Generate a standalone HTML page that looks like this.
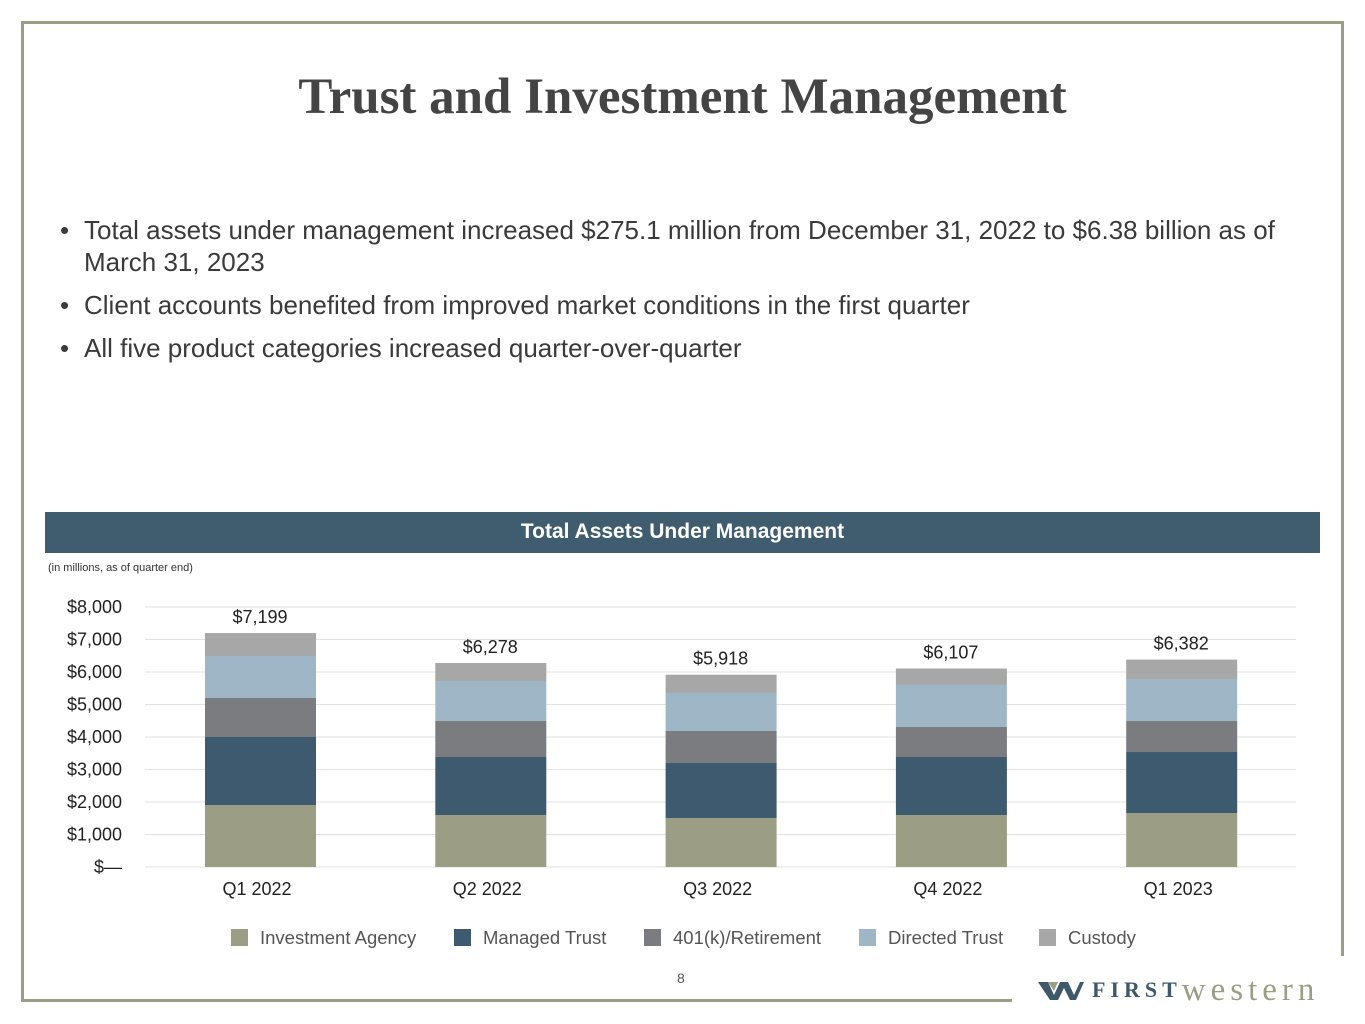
<!DOCTYPE html>
<html><head><meta charset="utf-8"><style>
body{margin:0;width:1365px;height:1024px;background:#fff;position:relative;overflow:hidden;font-family:"Liberation Sans",sans-serif}
.abs{position:absolute}
</style></head><body>
<div class="abs" style="left:21px;top:21px;width:1323px;height:3px;background:#9b9d84"></div>
<div class="abs" style="left:21px;top:21px;width:3px;height:981px;background:#9b9d84"></div>
<div class="abs" style="left:1341px;top:21px;width:3px;height:935px;background:#9b9d84"></div>
<div class="abs" style="left:21px;top:999px;width:991px;height:3px;background:#9b9d84"></div>
<div class="abs" style="left:0;width:1365px;top:68px;text-align:center;font-family:'Liberation Serif',serif;font-weight:bold;font-size:51px;color:#444">Trust and Investment Management</div>
<div class="abs" style="left:60px;top:214px;width:1240px;font-size:26px;color:#3a3a3a;line-height:32px">
<div style="padding-left:24px;position:relative"><span style="position:absolute;left:0">•</span>Total assets under management increased $275.1 million from December 31, 2022 to $6.38 billion as of March 31, 2023</div>
<div style="padding-left:24px;position:relative;margin-top:11px"><span style="position:absolute;left:0">•</span>Client accounts benefited from improved market conditions in the first quarter</div>
<div style="padding-left:24px;position:relative;margin-top:11px"><span style="position:absolute;left:0">•</span>All five product categories increased quarter-over-quarter</div>
</div>
<div class="abs" style="left:45px;top:512px;width:1275px;height:41px;background:#3f5d6f;color:#fff;font-weight:bold;font-size:21px;text-align:center;line-height:40px">Total Assets Under Management</div>
<div class="abs" style="left:48px;top:562px;font-size:11px;color:#333">(in millions, as of quarter end)</div>
<svg class="abs" style="left:0;top:0" width="1365" height="1024" id="chart"></svg>
<div class="abs" style="left:677px;top:970px;font-size:14px;color:#555">8</div>
<div class="abs" style="left:1038px;top:974px;height:32px;display:flex;align-items:center">
<svg width="46" height="22"><polygon points="0,3 10,3 16,16 22,3 30,3 36,16 42,3 46,3 38,21 32,21 26,9 20,21 12,21" fill="#3e5a6a"/><polygon points="10,3 20,3 16,12" fill="#9b9d84"/></svg>
<span style="font-family:'Liberation Serif',serif;font-weight:bold;font-size:22px;color:#3e5a6a;letter-spacing:5px;margin-left:8px">FIRST</span><span style="font-family:'Liberation Serif',serif;font-size:33px;color:#9b9d84;letter-spacing:5px">western</span>
</div>
<script>
const categories=["Q1 2022","Q2 2022","Q3 2022","Q4 2022","Q1 2023"];
const investmentAgency=[1908,1600,1508,1600,1662];
const managedTrust=[2092,1785,1692,1785,1876];
const retirement401k=[1200,1107,985,923,954];
const directedTrust=[1292,1231,1169,1292,1293];
const custody=[707,555,564,507,597];
const totalLabels=["$7,199","$6,278","$5,918","$6,107","$6,382"];
const yTicks=[0,1000,2000,3000,4000,5000,6000,7000,8000];
const yTickLabels=["$—","$1,000","$2,000","$3,000","$4,000","$5,000","$6,000","$7,000","$8,000"];
const seriesNames=["Investment Agency","Managed Trust","401(k)/Retirement","Directed Trust","Custody"];
const seriesColors=["#9b9d84","#3e5a6e","#7a7c80","#9fb6c7","#a7a7a7"];
const svg=document.getElementById('chart');const NS="http://www.w3.org/2000/svg";
function y(v){return 867-v*(260/8000);}
function x(i){return 145+i*230.3+115;}
function mk(t,a){const e=document.createElementNS(NS,t);for(const k in a)e.setAttribute(k,a[k]);svg.appendChild(e);return e;}
yTicks.forEach((t,i)=>{
const l=mk('line',{x1:145,x2:1296,y1:y(t),y2:y(t),stroke:'#e2e2e2','stroke-width':1});


const tx=mk('text',{x:122,y:y(t)+6,'text-anchor':'end','font-size':18,fill:'#222','font-family':'Liberation Sans'});
tx.textContent=yTickLabels[i];


});
const series=[investmentAgency,managedTrust,retirement401k,directedTrust,custody];
categories.forEach((c,i)=>{
let base=0;
series.forEach((s,j)=>{
const r=mk('rect',{x:x(i)-55,width:111,y:y(base+s[i]),height:y(base)-y(base+s[i]),fill:seriesColors[j]});


base+=s[i];
});
const tl=mk('text',{x:x(i),y:y(base)-10,'text-anchor':'middle','font-size':18,fill:'#222','font-family':'Liberation Sans'});
tl.textContent=totalLabels[i];


const xl=mk('text',{x:x(i)-3,y:895,'text-anchor':'middle','font-size':18,fill:'#222','font-family':'Liberation Sans'});
xl.textContent=c;


});
const lx=[231,454,644,859,1039];
seriesNames.forEach((n,j)=>{
const r=mk('rect',{x:lx[j],y:929,width:17,height:17,fill:seriesColors[j]});


const t=mk('text',{x:lx[j]+29,y:944,'font-size':18.5,fill:'#555','font-family':'Liberation Sans'});
t.textContent=n;


});
</script>
</body></html>
